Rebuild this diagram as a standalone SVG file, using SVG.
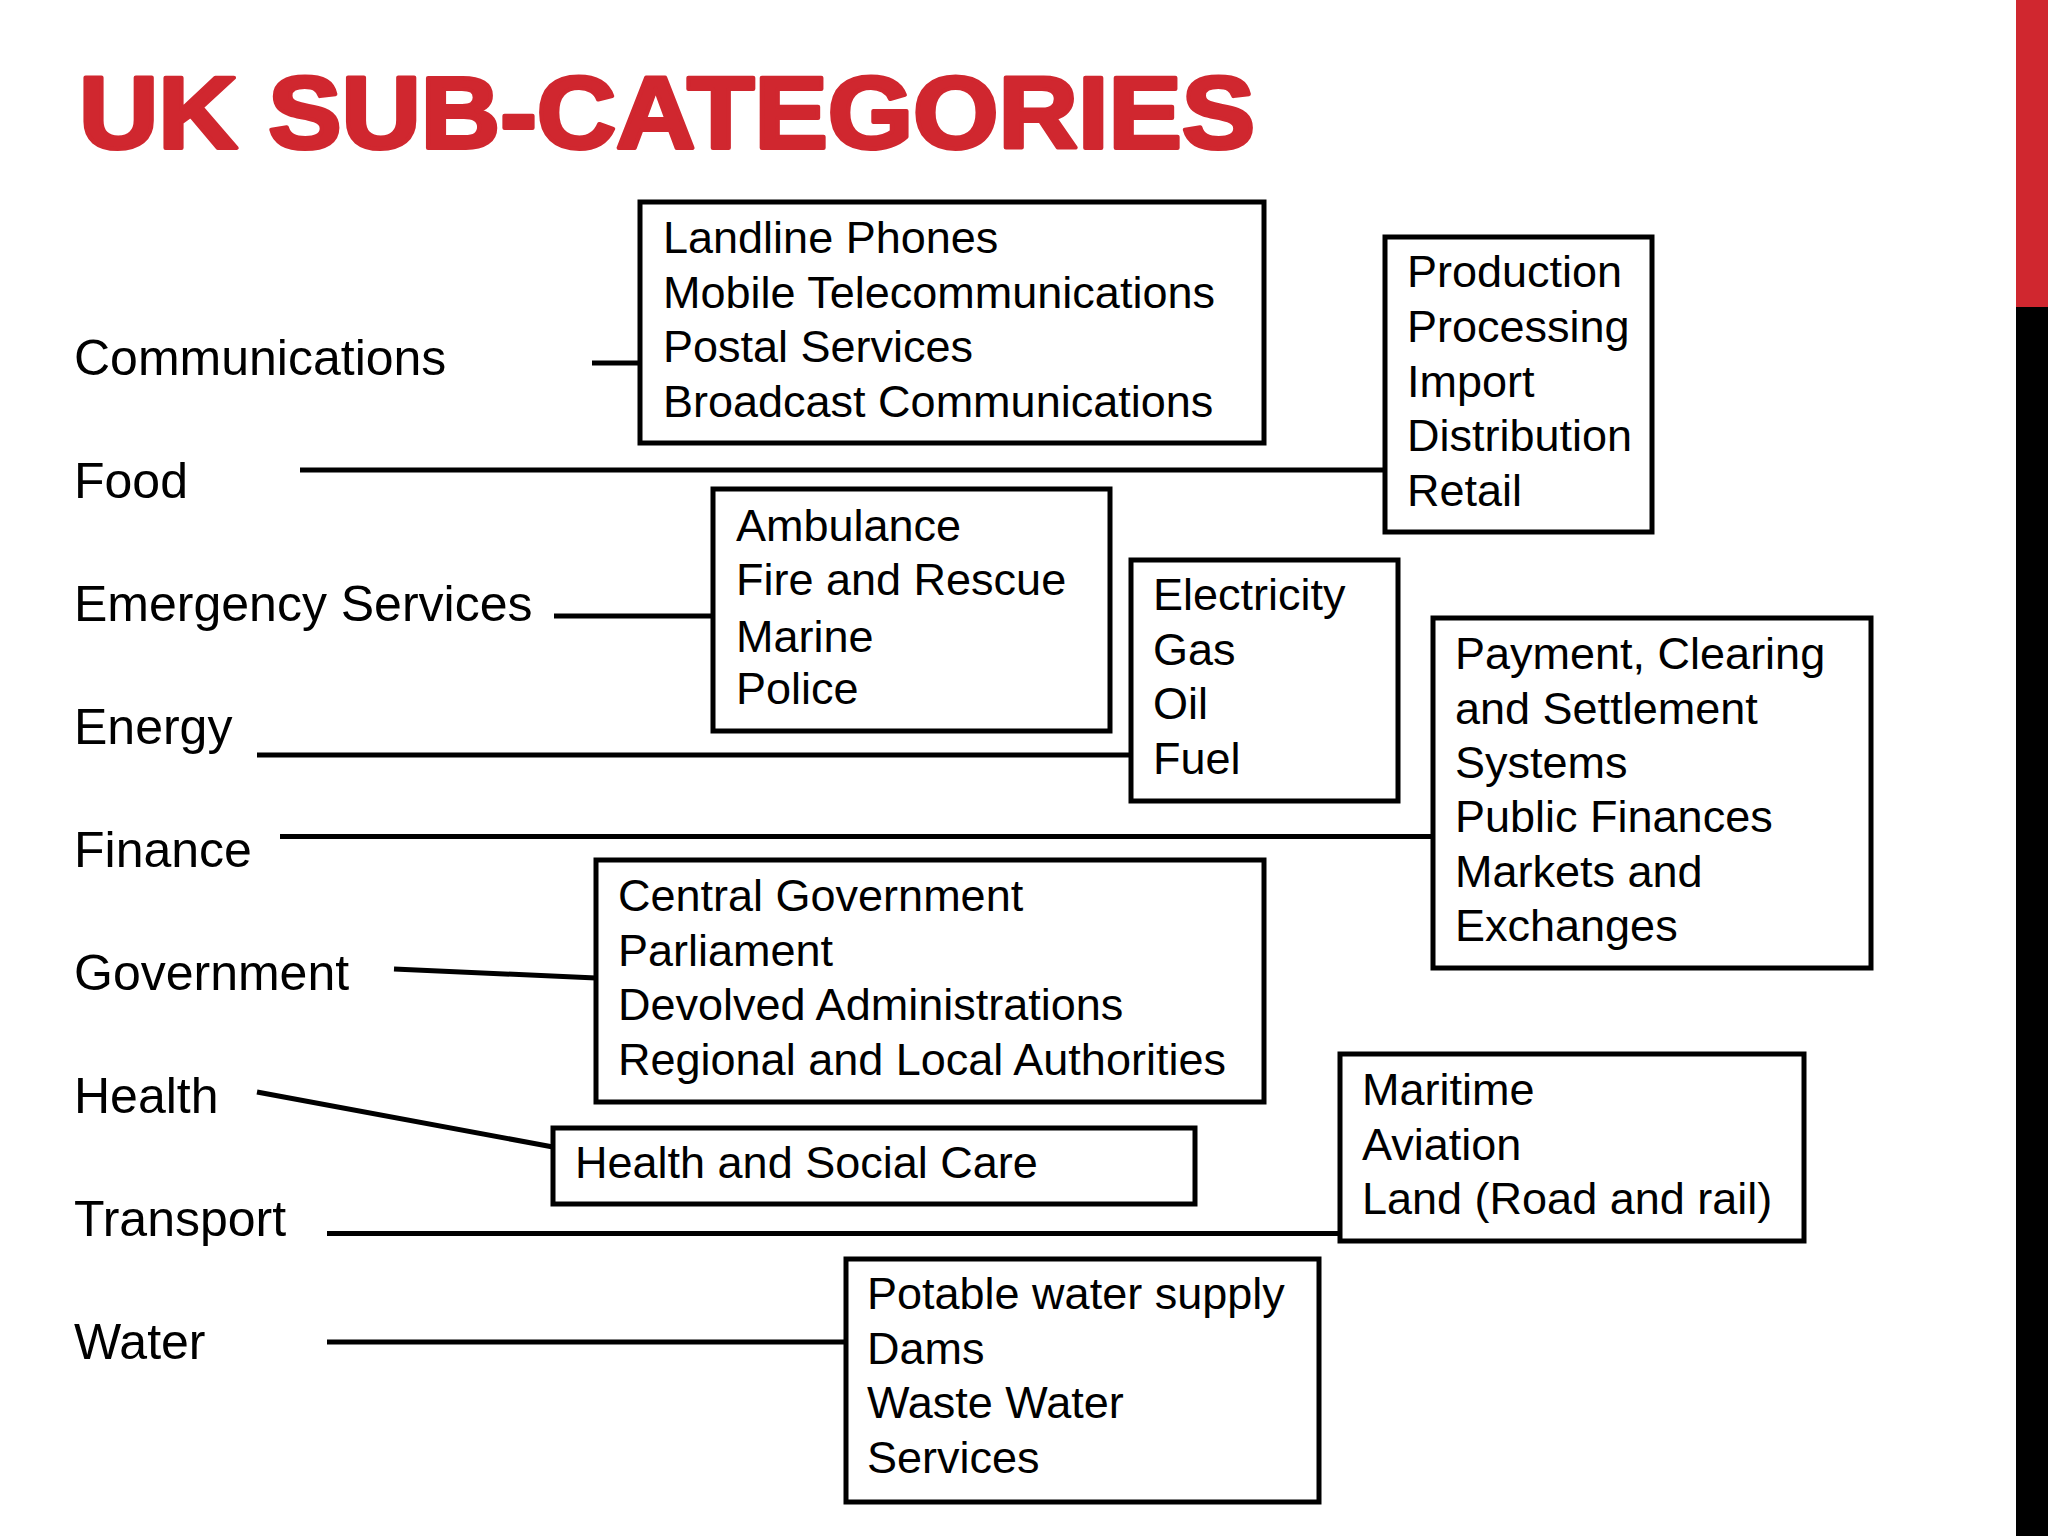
<svg xmlns="http://www.w3.org/2000/svg" width="2048" height="1536" viewBox="0 0 2048 1536">
<style>
.title{font-family:"Liberation Sans",Arial,sans-serif;font-weight:bold;font-size:102px;fill:#D0272F;stroke:#D0272F;stroke-width:4;stroke-linejoin:round}
.cat{font-family:"Liberation Sans",Arial,sans-serif;font-size:50px;fill:#000}
.item{font-family:"Liberation Sans",Arial,sans-serif;font-size:45px;fill:#000}
.box{fill:#fff;stroke:#000;stroke-width:5}
.conn line{stroke:#000;stroke-width:5}
</style>
<rect width="2048" height="1536" fill="#fff"/>
<rect x="2016" y="0" width="32" height="307" fill="#D0272F"/>
<rect x="2016" y="307" width="32" height="1229" fill="#000"/>
<text class="title" x="79" y="148" textLength="1176" lengthAdjust="spacingAndGlyphs">UK SUB-CATEGORIES</text>

<g id="connectors" class="conn">
<line x1="592" y1="363" x2="640" y2="363"/>
<line x1="300" y1="470" x2="1385" y2="470"/>
<line x1="554" y1="616" x2="713" y2="616"/>
<line x1="257" y1="755" x2="1131" y2="755"/>
<line x1="280" y1="836.5" x2="1433" y2="836.5"/>
<line x1="394" y1="969" x2="596" y2="978"/>
<line x1="257" y1="1092" x2="553" y2="1147"/>
<line x1="327" y1="1233.5" x2="1340" y2="1233.5"/>
<line x1="327" y1="1342" x2="846" y2="1342"/>
</g>

<g id="cat-communications"><text class="cat" x="74" y="375">Communications</text></g>
<g id="cat-food"><text class="cat" x="74" y="498">Food</text></g>
<g id="cat-emergency"><text class="cat" x="74" y="621">Emergency Services</text></g>
<g id="cat-energy"><text class="cat" x="74" y="744">Energy</text></g>
<g id="cat-finance"><text class="cat" x="74" y="867">Finance</text></g>
<g id="cat-government"><text class="cat" x="74" y="990">Government</text></g>
<g id="cat-health"><text class="cat" x="74" y="1113">Health</text></g>
<g id="cat-transport"><text class="cat" x="74" y="1236">Transport</text></g>
<g id="cat-water"><text class="cat" x="74" y="1359">Water</text></g>

<g id="box-communications">
<rect class="box" x="640" y="202" width="624" height="241"/>
<text class="item" x="663" y="253">Landline Phones</text>
<text class="item" x="663" y="307.5">Mobile Telecommunications</text>
<text class="item" x="663" y="362">Postal Services</text>
<text class="item" x="663" y="416.5">Broadcast Communications</text>
</g>

<g id="box-food">
<rect class="box" x="1385" y="237" width="267" height="295"/>
<text class="item" x="1407" y="287">Production</text>
<text class="item" x="1407" y="342">Processing</text>
<text class="item" x="1407" y="396.5">Import</text>
<text class="item" x="1407" y="451">Distribution</text>
<text class="item" x="1407" y="505.5">Retail</text>
</g>

<g id="box-emergency">
<rect class="box" x="713" y="489" width="397" height="242"/>
<text class="item" x="736" y="541">Ambulance</text>
<text class="item" x="736" y="595">Fire and Rescue</text>
<text class="item" x="736" y="652">Marine</text>
<text class="item" x="736" y="704">Police</text>
</g>

<g id="box-energy">
<rect class="box" x="1131" y="560" width="267" height="241"/>
<text class="item" x="1153" y="610">Electricity</text>
<text class="item" x="1153" y="664.5">Gas</text>
<text class="item" x="1153" y="719">Oil</text>
<text class="item" x="1153" y="774">Fuel</text>
</g>

<g id="box-finance">
<rect class="box" x="1433" y="618" width="438" height="350"/>
<text class="item" x="1455" y="669">Payment, Clearing</text>
<text class="item" x="1455" y="723.5">and Settlement</text>
<text class="item" x="1455" y="778">Systems</text>
<text class="item" x="1455" y="832">Public Finances</text>
<text class="item" x="1455" y="886.5">Markets and</text>
<text class="item" x="1455" y="941">Exchanges</text>
</g>

<g id="box-government">
<rect class="box" x="596" y="860" width="668" height="242"/>
<text class="item" x="618" y="911">Central Government</text>
<text class="item" x="618" y="965.5">Parliament</text>
<text class="item" x="618" y="1020">Devolved Administrations</text>
<text class="item" x="618" y="1074.5">Regional and Local Authorities</text>
</g>

<g id="box-health">
<rect class="box" x="553" y="1128" width="642" height="76"/>
<text class="item" x="575" y="1178">Health and Social Care</text>
</g>

<g id="box-transport">
<rect class="box" x="1340" y="1054" width="464" height="187"/>
<text class="item" x="1362" y="1105">Maritime</text>
<text class="item" x="1362" y="1159.5">Aviation</text>
<text class="item" x="1362" y="1213.5">Land (Road and rail)</text>
</g>

<g id="box-water">
<rect class="box" x="846" y="1259" width="473" height="243"/>
<text class="item" x="867" y="1309">Potable water supply</text>
<text class="item" x="867" y="1363.5">Dams</text>
<text class="item" x="867" y="1418">Waste Water</text>
<text class="item" x="867" y="1472.5">Services</text>
</g>
</svg>
